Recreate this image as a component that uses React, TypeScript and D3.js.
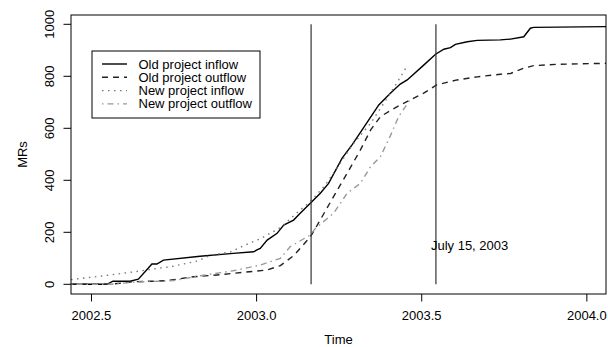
import * as d3 from "d3";

const oldInflowT = [2002.438, 2002.547, 2002.565, 2002.617, 2002.642, 2002.683, 2002.698, 2002.718, 2002.829, 2002.929, 2002.991, 2003.001, 2003.011, 2003.032, 2003.062, 2003.082, 2003.112, 2003.132, 2003.168, 2003.193, 2003.218, 2003.259, 2003.289, 2003.319, 2003.370, 2003.405, 2003.435, 2003.456, 2003.506, 2003.542, 2003.567, 2003.587, 2003.602, 2003.638, 2003.668, 2003.738, 2003.769, 2003.809, 2003.829, 2003.839, 2004.058];
const oldInflow = [0, 0, 12, 12, 20, 78, 78, 93, 108, 119, 125, 132, 138, 170, 196, 228, 247, 273, 318, 350, 388, 485, 536, 593, 690, 735, 770, 786, 843, 885, 904, 910, 923, 933, 938, 940, 943, 952, 985, 988, 991];

const oldOutflowT = [2002.438, 2002.557, 2002.626, 2002.687, 2002.728, 2002.809, 2002.880, 2002.991, 2003.032, 2003.072, 2003.112, 2003.132, 2003.163, 2003.178, 2003.233, 2003.274, 2003.314, 2003.345, 2003.375, 2003.405, 2003.435, 2003.506, 2003.545, 2003.607, 2003.668, 2003.738, 2003.769, 2003.809, 2003.839, 2003.910, 2004.058];
const oldOutflow = [0, 0, 10, 12, 14, 29, 36, 50, 55, 72, 110, 138, 183, 215, 337, 427, 516, 593, 645, 668, 690, 735, 767, 786, 798, 808, 811, 831, 841, 846, 850];

const newInflowT = [2002.438, 2002.539, 2002.641, 2002.681, 2002.742, 2002.822, 2002.860, 2002.920, 2002.981, 2003.011, 2003.072, 2003.132, 2003.163, 2003.208, 2003.294, 2003.345, 2003.385, 2003.425, 2003.456];
const newInflow = [18, 33, 50, 58, 68, 90, 112, 124, 160, 175, 218, 286, 318, 382, 542, 619, 696, 775, 840];

const newOutflowT = [2002.438, 2002.557, 2002.626, 2002.748, 2002.829, 2002.929, 2003.011, 2003.072, 2003.102, 2003.163, 2003.178, 2003.233, 2003.274, 2003.314, 2003.345, 2003.375, 2003.405, 2003.430, 2003.466];
const newOutflow = [0, 0, 8, 14, 33, 52, 74, 100, 145, 190, 215, 273, 350, 388, 452, 491, 571, 645, 712];

const xTicks = [2002.5, 2003.0, 2003.5, 2004.0];
const yTicks = [0, 200, 400, 600, 800, 1000];
const markerDates = [2003.165, 2003.543];
const markerLabel = "July 15, 2003";
const legendLabels = ["Old project inflow", "Old project outflow", "New project inflow", "New project outflow"];

const W = 608;
const H = 347;
const margin = { top: 15, right: 2, bottom: 53, left: 71 };
const font = "'Liberation Sans', Arial, Helvetica, sans-serif";

const styles = [
  { color: "#000", dash: null, width: 1.4 },
  { color: "#222", dash: "6,5", width: 1.4 },
  { color: "#777", dash: "1.5,4.5", width: 1.4 },
  { color: "#999", dash: "1.5,4,6,4", width: 1.4 },
];

export default function App() {
  const x = d3
    .scaleLinear()
    .domain([2002.438, 2004.058])
    .range([margin.left, W - margin.right]);
  const y = d3
    .scaleLinear()
    .domain([0, 1000])
    .range([284.3, 24.3]);

  const series = [
    [oldInflowT, oldInflow],
    [oldOutflowT, oldOutflow],
    [newInflowT, newInflow],
    [newOutflowT, newOutflow],
  ];

  const line = d3
    .line<[number, number]>()
    .x((d) => x(d[0]))
    .y((d) => y(d[1]));

  const bottom = H - margin.bottom;

  const legend = { x: 92, y: 51, w: 168, h: 67 };

  return (
    <svg
      width={W}
      height={H}
      style={{ position: "absolute", left: 0, top: 0, background: "#fff" }}
      fontFamily={font}
      fontSize={13}
    >
      <defs>
        <clipPath id="plot">
          <rect x={margin.left} y={margin.top} width={W - margin.right - margin.left} height={bottom - margin.top} />
        </clipPath>
      </defs>
      <g clipPath="url(#plot)">
        {series.map(([ts, vs], i) => (
          <path
            key={i}
            d={line(ts.map((t, j) => [t, vs[j]] as [number, number])) || ""}
            fill="none"
            stroke={styles[i].color}
            strokeWidth={styles[i].width}
            strokeDasharray={styles[i].dash || undefined}
          />
        ))}
        {markerDates.map((d, i) => (
          <line key={i} x1={x(d)} x2={x(d)} y1={y(0)} y2={y(1000)} stroke="#333" strokeWidth={1.2} />
        ))}
      </g>
      <text x={x(2003.645)} y={y(150)} textAnchor="middle" dominantBaseline="central" fill="#000">
        {markerLabel}
      </text>

      <rect
        x={margin.left}
        y={margin.top}
        width={W - margin.right - margin.left}
        height={bottom - margin.top}
        fill="none"
        stroke="#000"
        strokeWidth={1}
      />

      {xTicks.map((t) => (
        <g key={t}>
          <line x1={x(t)} x2={x(t)} y1={bottom} y2={bottom + 7.5} stroke="#000" />
          <text x={x(t)} y={320} textAnchor="middle">
            {t.toFixed(1)}
          </text>
        </g>
      ))}
      {yTicks.map((v) => (
        <g key={v}>
          <line x1={margin.left} x2={margin.left - 7.5} y1={y(v)} y2={y(v)} stroke="#000" />
          <text transform={`translate(54,${y(v)}) rotate(-90)`} textAnchor="middle">
            {v}
          </text>
        </g>
      ))}
      <text x={(margin.left + W - margin.right) / 2} y={344} textAnchor="middle">
        Time
      </text>
      <text transform={`translate(27,${(margin.top + bottom) / 2}) rotate(-90)`} textAnchor="middle">
        MRs
      </text>

      <rect x={legend.x} y={legend.y} width={legend.w} height={legend.h} fill="#fff" stroke="#000" strokeWidth={1} />
      {legendLabels.map((lab, i) => {
        const cy = legend.y + 13 + i * 13.3;
        return (
          <g key={lab}>
            <line
              x1={legend.x + 10}
              x2={legend.x + 35}
              y1={cy}
              y2={cy}
              stroke={styles[i].color}
              strokeWidth={styles[i].width}
              strokeDasharray={styles[i].dash || undefined}
            />
            <text x={legend.x + 46.5} y={cy} dominantBaseline="central">
              {lab}
            </text>
          </g>
        );
      })}
    </svg>
  );
}
